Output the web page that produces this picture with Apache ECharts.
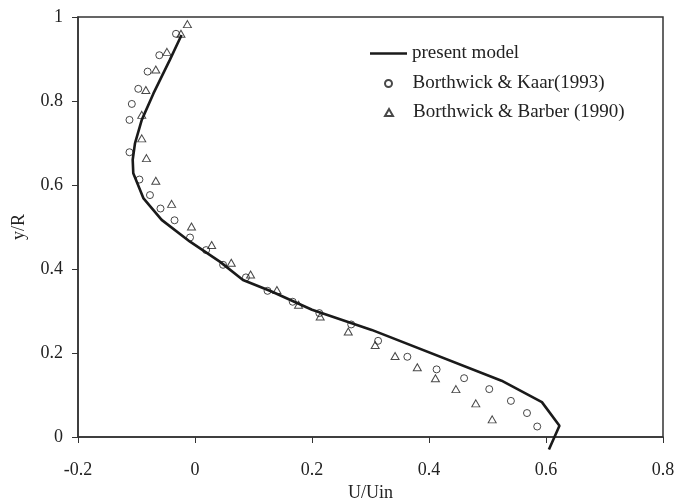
<!DOCTYPE html>
<html>
<head>
<meta charset="utf-8">
<script src="https://cdn.jsdelivr.net/npm/echarts@6/dist/echarts.min.js"></script>
<style>
  html, body { margin: 0; padding: 0; background: #fff; }
  #chart { width: 675px; height: 501px; }
</style>
</head>
<body>
<div id="chart"></div>
<script>
// Velocity profile: model curve versus two experimental datasets
const xTicks = [-0.2, 0, 0.2, 0.4, 0.6, 0.8];
const yTicks = [0, 0.2, 0.4, 0.6, 0.8, 1];

// present model (U/Uin, y/R)
const modelU = [0.605, 0.623, 0.593, 0.524, 0.302, 0.2, 0.13, 0.082, 0.043, -0.0085, -0.057, -0.088, -0.1055, -0.1065, -0.1026, -0.091, -0.071, -0.043, -0.023];
const modelY = [-0.03, 0.027, 0.083, 0.134, 0.255, 0.303, 0.347, 0.374, 0.417, 0.465, 0.517, 0.568, 0.628, 0.66, 0.699, 0.755, 0.818, 0.898, 0.957];

// Borthwick & Kaar (1993)
const kaarU = [-0.0325, -0.061, -0.081, -0.097, -0.108, -0.112, -0.112, -0.095, -0.077, -0.059, -0.035, -0.0085, 0.019, 0.048, 0.087, 0.124, 0.167, 0.2125, 0.267, 0.313, 0.363, 0.413, 0.46, 0.503, 0.54, 0.5675, 0.585];
const kaarY = [0.96, 0.909, 0.87, 0.829, 0.793, 0.755, 0.678, 0.613, 0.576, 0.544, 0.516, 0.475, 0.445, 0.41, 0.38, 0.348, 0.322, 0.295, 0.268, 0.229, 0.191, 0.161, 0.14, 0.114, 0.086, 0.057, 0.025];

// Borthwick & Barber (1990)
const barberU = [-0.013, -0.024, -0.048, -0.067, -0.084, -0.091, -0.091, -0.083, -0.067, -0.04, -0.006, 0.0285, 0.062, 0.095, 0.14, 0.177, 0.214, 0.262, 0.308, 0.342, 0.38, 0.411, 0.446, 0.48, 0.508];
const barberY = [0.983, 0.96, 0.917, 0.875, 0.826, 0.767, 0.711, 0.664, 0.61, 0.555, 0.501, 0.457, 0.415, 0.387, 0.35, 0.315, 0.287, 0.251, 0.219, 0.193, 0.166, 0.14, 0.114, 0.08, 0.042];

const seriesNames = ['present model', 'Borthwick & Kaar(1993)', 'Borthwick & Barber (1990)'];

const pair = (xs, ys) => xs.map((x, i) => [x, ys[i]]);

const FONT = 'Liberation Serif';
const INK = '#222';
const LEGEND_SIZE = 19;

const axisCommon = {
  type: 'value',
  axisLine: { show: true, onZero: false, lineStyle: { color: '#333', width: 1.5 } },
  axisTick: { show: true, inside: false, length: 6, lineStyle: { color: '#333', width: 1 } },
  splitLine: { show: false },
  axisLabel: { color: INK, fontFamily: FONT, fontSize: 18 },
  nameTextStyle: { color: INK, fontFamily: FONT, fontSize: 18 },
  nameLocation: 'middle'
};

const legendText = {
  color: INK, fontFamily: FONT, fontSize: LEGEND_SIZE,
  rich: { p: { color: INK, fontFamily: FONT, fontSize: LEGEND_SIZE, padding: [0, 0, 0, 15] } }
};

const chart = echarts.init(document.getElementById('chart'), null, { renderer: 'canvas' });

chart.setOption({
  animation: false,
  backgroundColor: '#fff',
  grid: {
    left: 78, right: 12, top: 17, bottom: 64,
    outerBoundsMode: 'none', containLabel: false,
    show: true, borderColor: '#333', borderWidth: 1.5, backgroundColor: 'transparent'
  },
  xAxis: Object.assign({}, axisCommon, {
    min: xTicks[0], max: xTicks[xTicks.length - 1], interval: 0.2,
    name: 'U/Uin', nameGap: 44,
    axisLabel: Object.assign({}, axisCommon.axisLabel, { margin: 24, showMaxLabel: true, showMinLabel: true })
  }),
  yAxis: Object.assign({}, axisCommon, {
    min: yTicks[0], max: yTicks[yTicks.length - 1], interval: 0.2,
    name: 'y/R', nameGap: 50, nameRotate: 90,
    axisLabel: Object.assign({}, axisCommon.axisLabel, { margin: 15 })
  }),
  legend: [
    {
      data: [{ name: seriesNames[0], icon: 'rect' }], orient: 'vertical', left: 370, top: 44, padding: 0,
      itemWidth: 37, itemHeight: 2.6, selectedMode: false,
      itemStyle: { color: '#1a1a1a' },
      textStyle: { color: INK, fontFamily: FONT, fontSize: LEGEND_SIZE }
    },
    {
      data: [seriesNames[1]], orient: 'vertical', left: 384, top: 74, padding: 0,
      itemWidth: 8, itemHeight: 7, selectedMode: false,
      formatter: '{p|{name}}', textStyle: legendText
    },
    {
      data: [seriesNames[2]], orient: 'vertical', left: 384, top: 103, padding: 0,
      itemWidth: 8, itemHeight: 7, selectedMode: false,
      formatter: '{p|{name}}', textStyle: legendText
    }
  ],
  series: [
    {
      name: seriesNames[0], type: 'line', data: pair(modelU, modelY),
      showSymbol: false, symbol: 'none', clip: false, silent: true,
      lineStyle: { color: '#1a1a1a', width: 2.6 },
      itemStyle: { color: '#1a1a1a' }, z: 2
    },
    {
      name: seriesNames[1], type: 'scatter', data: pair(kaarU, kaarY),
      symbol: 'circle', symbolSize: 7, silent: true,
      itemStyle: { color: 'rgba(255,255,255,0)', borderColor: '#1a1a1a', borderWidth: 1 }, z: 3
    },
    {
      name: seriesNames[2], type: 'scatter', data: pair(barberU, barberY),
      symbol: 'triangle', symbolSize: [8, 7], silent: true,
      itemStyle: { color: 'rgba(255,255,255,0)', borderColor: '#1a1a1a', borderWidth: 1 }, z: 3
    }
  ]
});
</script>
</body>
</html>
